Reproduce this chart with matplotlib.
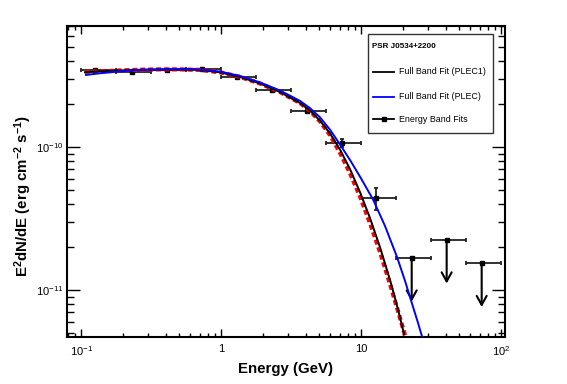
import matplotlib
matplotlib.use('Agg')
import matplotlib.pyplot as plt
from matplotlib.ticker import LogLocator, NullFormatter
from matplotlib.patches import Rectangle

plt.rcParams['font.family'] = ['Liberation Sans', 'DejaVu Sans']
plt.rcParams['mathtext.fontset'] = 'custom'
plt.rcParams['mathtext.rm'] = 'Liberation Sans'
plt.rcParams['mathtext.bf'] = 'Liberation Sans:bold'
plt.rcParams['mathtext.default'] = 'regular'

# full band fit, PLEC1 (black)
plec1_e = [0.106, 0.136, 0.189, 0.263, 0.365, 0.507, 0.705, 0.979, 1.36, 1.89, 2.63,
           3.65, 4.30, 5.07, 5.98, 7.05, 8.31, 9.79, 11.54, 13.6, 16.03, 18.29, 20.18]
plec1_f = [3.33e-10, 3.38e-10, 3.43e-10, 3.47e-10, 3.49e-10, 3.49e-10, 3.46e-10, 3.33e-10,
           3.09e-10, 2.78e-10, 2.42e-10, 2.03e-10, 1.795e-10, 1.527e-10, 1.242e-10, 9.58e-11,
           6.99e-11, 4.83e-11, 3.18e-11, 1.99e-11, 1.175e-11, 7.31e-12, 4.93e-12]

# red dashed companion curve
red_e = [0.106, 0.136, 0.189, 0.263, 0.365, 0.507, 0.705, 0.979, 1.36, 1.89, 2.63,
         3.65, 4.30, 5.07, 5.98, 7.05, 8.31, 9.79, 11.54, 13.6, 16.03, 18.29, 20.69]
red_f = [3.36e-10, 3.38e-10, 3.43e-10, 3.47e-10, 3.49e-10, 3.49e-10, 3.46e-10, 3.33e-10,
         3.09e-10, 2.78e-10, 2.42e-10, 2.03e-10, 1.79e-10, 1.51e-10, 1.21e-10, 9.1e-11,
         6.55e-11, 4.50e-11, 2.93e-11, 1.84e-11, 1.10e-11, 7.1e-12, 4.69e-12]

# full band fit, PLEC (blue)
plec_e = [0.108, 0.136, 0.189, 0.263, 0.365, 0.507, 0.705, 0.979, 1.36, 1.89, 2.63,
          3.65, 4.30, 5.07, 5.98, 7.05, 8.31, 9.79, 12.12, 14.77, 17.99, 20.51, 23.02,
          25.20, 27.46]
plec_f = [3.19e-10, 3.28e-10, 3.38e-10, 3.46e-10, 3.49e-10, 3.51e-10, 3.48e-10, 3.37e-10,
          3.14e-10, 2.83e-10, 2.48e-10, 2.10e-10, 1.87e-10, 1.612e-10, 1.32e-10, 1.04e-10,
          8.1e-11, 6.2e-11, 4.3e-11, 2.8e-11, 1.70e-11, 1.16e-11, 8.03e-12,
          6.04e-12, 4.55e-12]

# energy band fits
band_e = [0.125, 0.229, 0.407, 0.724, 1.29, 2.29, 4.07, 7.24, 12.7]
band_lo = [0.1, 0.178, 0.316, 0.562, 1.0, 1.78, 3.16, 5.62, 10.0]
band_hi = [0.178, 0.316, 0.562, 1.0, 1.78, 3.16, 5.62, 10.0, 17.8]
band_f = [3.46e-10, 3.33e-10, 3.47e-10, 3.49e-10, 3.10e-10, 2.50e-10, 1.79e-10, 1.06e-10, 4.38e-11]
band_err_dn = [4e-12, 4e-12, 4e-12, 4e-12, 4e-12, 4e-12, 4e-12, 6e-12, 7.5e-12]
band_err_up = [4e-12, 4e-12, 4e-12, 4e-12, 4e-12, 4e-12, 4e-12, 7e-12, 7.6e-12]

# upper limits
ul_e = [22.9, 40.7, 72.4]
ul_lo = [17.8, 31.6, 56.2]
ul_hi = [31.6, 56.2, 100.0]
ul_f = [1.67e-11, 2.23e-11, 1.54e-11]
ul_tip = [8.3e-12, 1.11e-11, 7.6e-12]

fig = plt.figure(figsize=(5.67, 3.84), dpi=100)
ax = fig.add_axes([0.1187, 0.1224, 0.772, 0.8099])

xerr = [[e - lo for e, lo in zip(band_e, band_lo)], [hi - e for e, hi in zip(band_e, band_hi)]]
ax.errorbar(band_e, band_f, xerr=xerr, yerr=[band_err_dn, band_err_up], fmt='s', ms=3.2,
            color='black', ecolor='#222222', elinewidth=1.3, capsize=1.6, capthick=1.3, zorder=2)

ul_xerr = [[e - lo for e, lo in zip(ul_e, ul_lo)], [hi - e for e, hi in zip(ul_e, ul_hi)]]
ax.errorbar(ul_e, ul_f, xerr=ul_xerr, fmt='s', ms=3.2, color='black', ecolor='#222222',
            elinewidth=1.3, capsize=1.6, capthick=1.3, zorder=2)
for e, f, t in zip(ul_e, ul_f, ul_tip):
    ax.annotate('', xy=(e, t), xytext=(e, f),
                arrowprops=dict(arrowstyle='->, head_length=0.65, head_width=0.36',
                                color='black', lw=1.5, shrinkA=0, shrinkB=0), zorder=2)

ax.plot(red_e, red_f, color='red', lw=3.0, linestyle=(0, (1.2, 0.7)), zorder=3)
ax.plot(plec1_e, plec1_f, color='black', lw=1.4, zorder=4)
ax.plot(plec_e, plec_f, color='#0000ff', lw=1.4, zorder=5)

ax.set_xscale('log')
ax.set_yscale('log')
ax.set_xlim(0.0794, 106.3)
ax.set_ylim(4.69e-12, 7.02e-10)

ax.set_xticks([0.1, 1, 10, 100])
ax.set_xticklabels(['$10^{-1}$', '1', '10', '$10^{2}$'])
ax.set_yticks([1e-11, 1e-10])
ax.set_yticklabels(['$10^{-11}$', '$10^{-10}$'])
ax.xaxis.set_minor_locator(LogLocator(base=10, subs=range(2, 10)))
ax.yaxis.set_minor_locator(LogLocator(base=10, subs=range(2, 10)))
ax.xaxis.set_minor_formatter(NullFormatter())
ax.yaxis.set_minor_formatter(NullFormatter())

ax.tick_params(axis='both', which='both', direction='in', top=True, right=True,
               labelsize=8, width=1.0, color='black')
ax.tick_params(axis='x', which='major', length=5.8, pad=5)
ax.tick_params(axis='x', which='minor', length=2.9)
ax.tick_params(axis='y', which='major', length=9.4, pad=3)
ax.tick_params(axis='y', which='minor', length=5.0)
for s in ax.spines.values():
    s.set_linewidth(1.5)

fig.text(0.5044, 0.04, 'Energy (GeV)', ha='center', va='center', fontsize=10.8, fontweight='bold')
fig.text(0.041, 0.49, r'E$^{\mathbf{2}}$dN/dE (erg cm$^{\mathbf{-2}}$ s$^{\mathbf{-1}}$)',
         rotation=90, ha='center', va='center', fontsize=10.8, fontweight='bold')

# legend box
ax.add_patch(Rectangle((0.6877, 0.655), 0.2856, 0.3193, transform=ax.transAxes,
                       facecolor='white', edgecolor='#333333', lw=1.0, zorder=6))
ax.text(0.696, 0.9325, 'PSR J0534+2200', transform=ax.transAxes, fontsize=5.8,
        fontweight='bold', va='center', ha='left', zorder=7)
entries = [('Full Band Fit (PLEC1)', 'black', None, 0.853),
           ('Full Band Fit (PLEC)', '#0000ff', None, 0.7727),
           ('Energy Band Fits', 'black', 's', 0.70)]
for label, col, mk, yy in entries:
    ax.plot([0.6978, 0.7469], [yy, yy], transform=ax.transAxes, color=col, lw=1.3, zorder=7)
    if mk:
        ax.plot([0.7224], [yy], transform=ax.transAxes, marker=mk, ms=3.2, color=col, zorder=7)
    ax.text(0.7578, yy, label, transform=ax.transAxes, fontsize=6.4, va='center', ha='left', zorder=7)

fig.savefig('out.png', dpi=100)
